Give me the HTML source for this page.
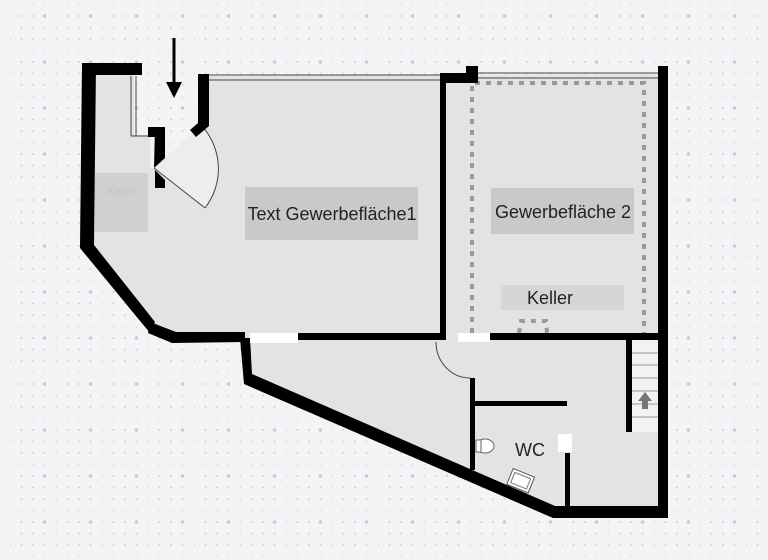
<!DOCTYPE html>
<html><head><meta charset="utf-8"><style>
html,body{margin:0;padding:0;background:#f4f4f6;}
svg{display:block;}
text{font-family:"Liberation Sans",sans-serif;}
</style></head><body>
<svg width="768" height="560" viewBox="0 0 768 560" xmlns="http://www.w3.org/2000/svg">
<defs>
<pattern id="dots" x="10" y="4.5" width="46" height="46" patternUnits="userSpaceOnUse">
<g fill="#d0d0d8">
<circle cx="0" cy="0" r="1"/><circle cx="11.5" cy="0" r="1"/><circle cx="23" cy="0" r="1"/><circle cx="34.5" cy="0" r="1"/>
<circle cx="0" cy="11.5" r="1"/><circle cx="11.5" cy="11.5" r="1"/><circle cx="23" cy="11.5" r="1"/><circle cx="34.5" cy="11.5" r="1.8" fill="#c6cad8"/>
<circle cx="0" cy="23" r="1"/><circle cx="11.5" cy="23" r="1"/><circle cx="23" cy="23" r="1"/><circle cx="34.5" cy="23" r="1"/>
<circle cx="0" cy="34.5" r="1"/><circle cx="11.5" cy="34.5" r="1"/><circle cx="23" cy="34.5" r="1"/><circle cx="34.5" cy="34.5" r="1"/>
</g></pattern>
</defs>
<rect width="768" height="560" fill="#f4f4f6"/>
<rect width="768" height="560" fill="url(#dots)"/>
<!-- floor -->
<polygon points="90,70 134,70 134,135 150,135 150,168 154,168 196,132 205,126 205,76 660,74 660,512 555,512 248,378 243,338 155,330 88,245" fill="#e3e3e3"/>
<!-- labels -->
<rect x="95" y="173" width="53" height="59" fill="#d0d0d0"/>
<text x="121" y="195" font-size="11" fill="#c4c4c4" text-anchor="middle">Keller</text>
<rect x="245" y="187" width="173" height="53" fill="#c9c9c9"/>
<text x="332" y="220" font-size="18" fill="#222" text-anchor="middle">Text Gewerbefläche1</text>
<rect x="491" y="188" width="143" height="46" fill="#c9c9c9"/>
<text x="563" y="218" font-size="18" fill="#222" text-anchor="middle">Gewerbefläche 2</text>
<rect x="501" y="285" width="123" height="25" fill="#d6d6d6"/>
<text x="550" y="304" font-size="18" fill="#222" text-anchor="middle">Keller</text>
<!-- dotted -->
<g fill="none" stroke="#999" stroke-width="4" stroke-dasharray="5,6">
<polyline points="472,333 472,83 644,83 644,333"/>
<polyline points="519,333 521,321 546,321 547,333"/>
</g>
<!-- windows -->
<g stroke="#444" stroke-width="1" fill="none">
<line x1="208" y1="75" x2="440" y2="75"/><line x1="208" y1="80" x2="440" y2="80"/>
<line x1="478" y1="73" x2="658" y2="73"/><line x1="478" y1="78" x2="658" y2="78"/>
<line x1="131" y1="76" x2="131" y2="136"/><line x1="136" y1="76" x2="136" y2="136"/>
<line x1="131" y1="136" x2="150" y2="136"/>
</g>
<!-- door swing -->
<path d="M154,168 L202,126 A64,64 0 0 1 205,208 Z" fill="#ededed"/>
<line x1="154" y1="168" x2="205" y2="208" stroke="#444" stroke-width="1"/>
<path d="M202,126 A64,64 0 0 1 205,208" fill="none" stroke="#444" stroke-width="1"/>
<!-- walls -->
<g fill="#000">
<rect x="82" y="63" width="60" height="12"/>
<polygon points="82,63 96,63 94,245 155,322 150,333 80,248"/>
<polygon points="150,322 176,332 245,332 245,342 172,343 148,333"/>
<rect x="298" y="333" width="142" height="7"/>
<rect x="490" y="333" width="170" height="7"/>
<rect x="440" y="75" width="6" height="265"/>
<rect x="440" y="73" width="36" height="10"/>
<rect x="466" y="66" width="12" height="17"/>
<rect x="658" y="66" width="10" height="452"/>
<polygon points="240,338 250,338 252,374 555,506 668,506 668,518 553,518 244,384"/>
<rect x="148" y="127" width="17" height="10"/>
<polygon points="155,127 165,127 165,158 154,168"/>
<polygon points="155,170 165,180 165,188 155,188"/>
<polygon points="198,74 209,74 209,126 196,137 190,130 198,123"/>
<rect x="470" y="378" width="5" height="92"/>
<rect x="475" y="401" width="92" height="5"/>
<rect x="565" y="453" width="5" height="56"/>
<rect x="626" y="340" width="6" height="92"/>
</g>
<rect x="250" y="333" width="48" height="10" fill="#fff"/>
<rect x="458" y="333" width="32" height="9" fill="#fff"/>
<rect x="558" y="434" width="14" height="18" fill="#fff"/>
<path d="M436,342 A34,36 0 0 0 470,378" fill="none" stroke="#444" stroke-width="1"/>
<!-- stairs -->
<rect x="632" y="340" width="26" height="92" fill="#f2f2f2"/>
<g stroke="#999" stroke-width="1">
<line x1="632" y1="353" x2="658" y2="353"/><line x1="632" y1="365" x2="658" y2="365"/>
<line x1="632" y1="378" x2="658" y2="378"/><line x1="632" y1="391" x2="658" y2="391"/>
<line x1="632" y1="404" x2="658" y2="404"/><line x1="632" y1="417" x2="658" y2="417"/>
</g>
<polygon points="645,392 652,401 648,401 648,409 642,409 642,401 638,401" fill="#777"/>
<!-- WC -->
<text x="530" y="456" font-size="18" fill="#222" text-anchor="middle">WC</text>
<ellipse cx="485" cy="446" rx="9" ry="7" fill="#fff" stroke="#666"/>
<rect x="476" y="440" width="5" height="12" fill="#fff" stroke="#666"/>
<g transform="rotate(22 520 481)"><rect x="509" y="472" width="23" height="17" fill="#fff" stroke="#555"/><rect x="512" y="475" width="17" height="11" fill="none" stroke="#777"/></g>
<!-- entrance arrow -->
<line x1="174" y1="38" x2="174" y2="86" stroke="#000" stroke-width="3"/>
<polygon points="166,82 182,82 174,98" fill="#000"/>
</svg>
</body></html>
